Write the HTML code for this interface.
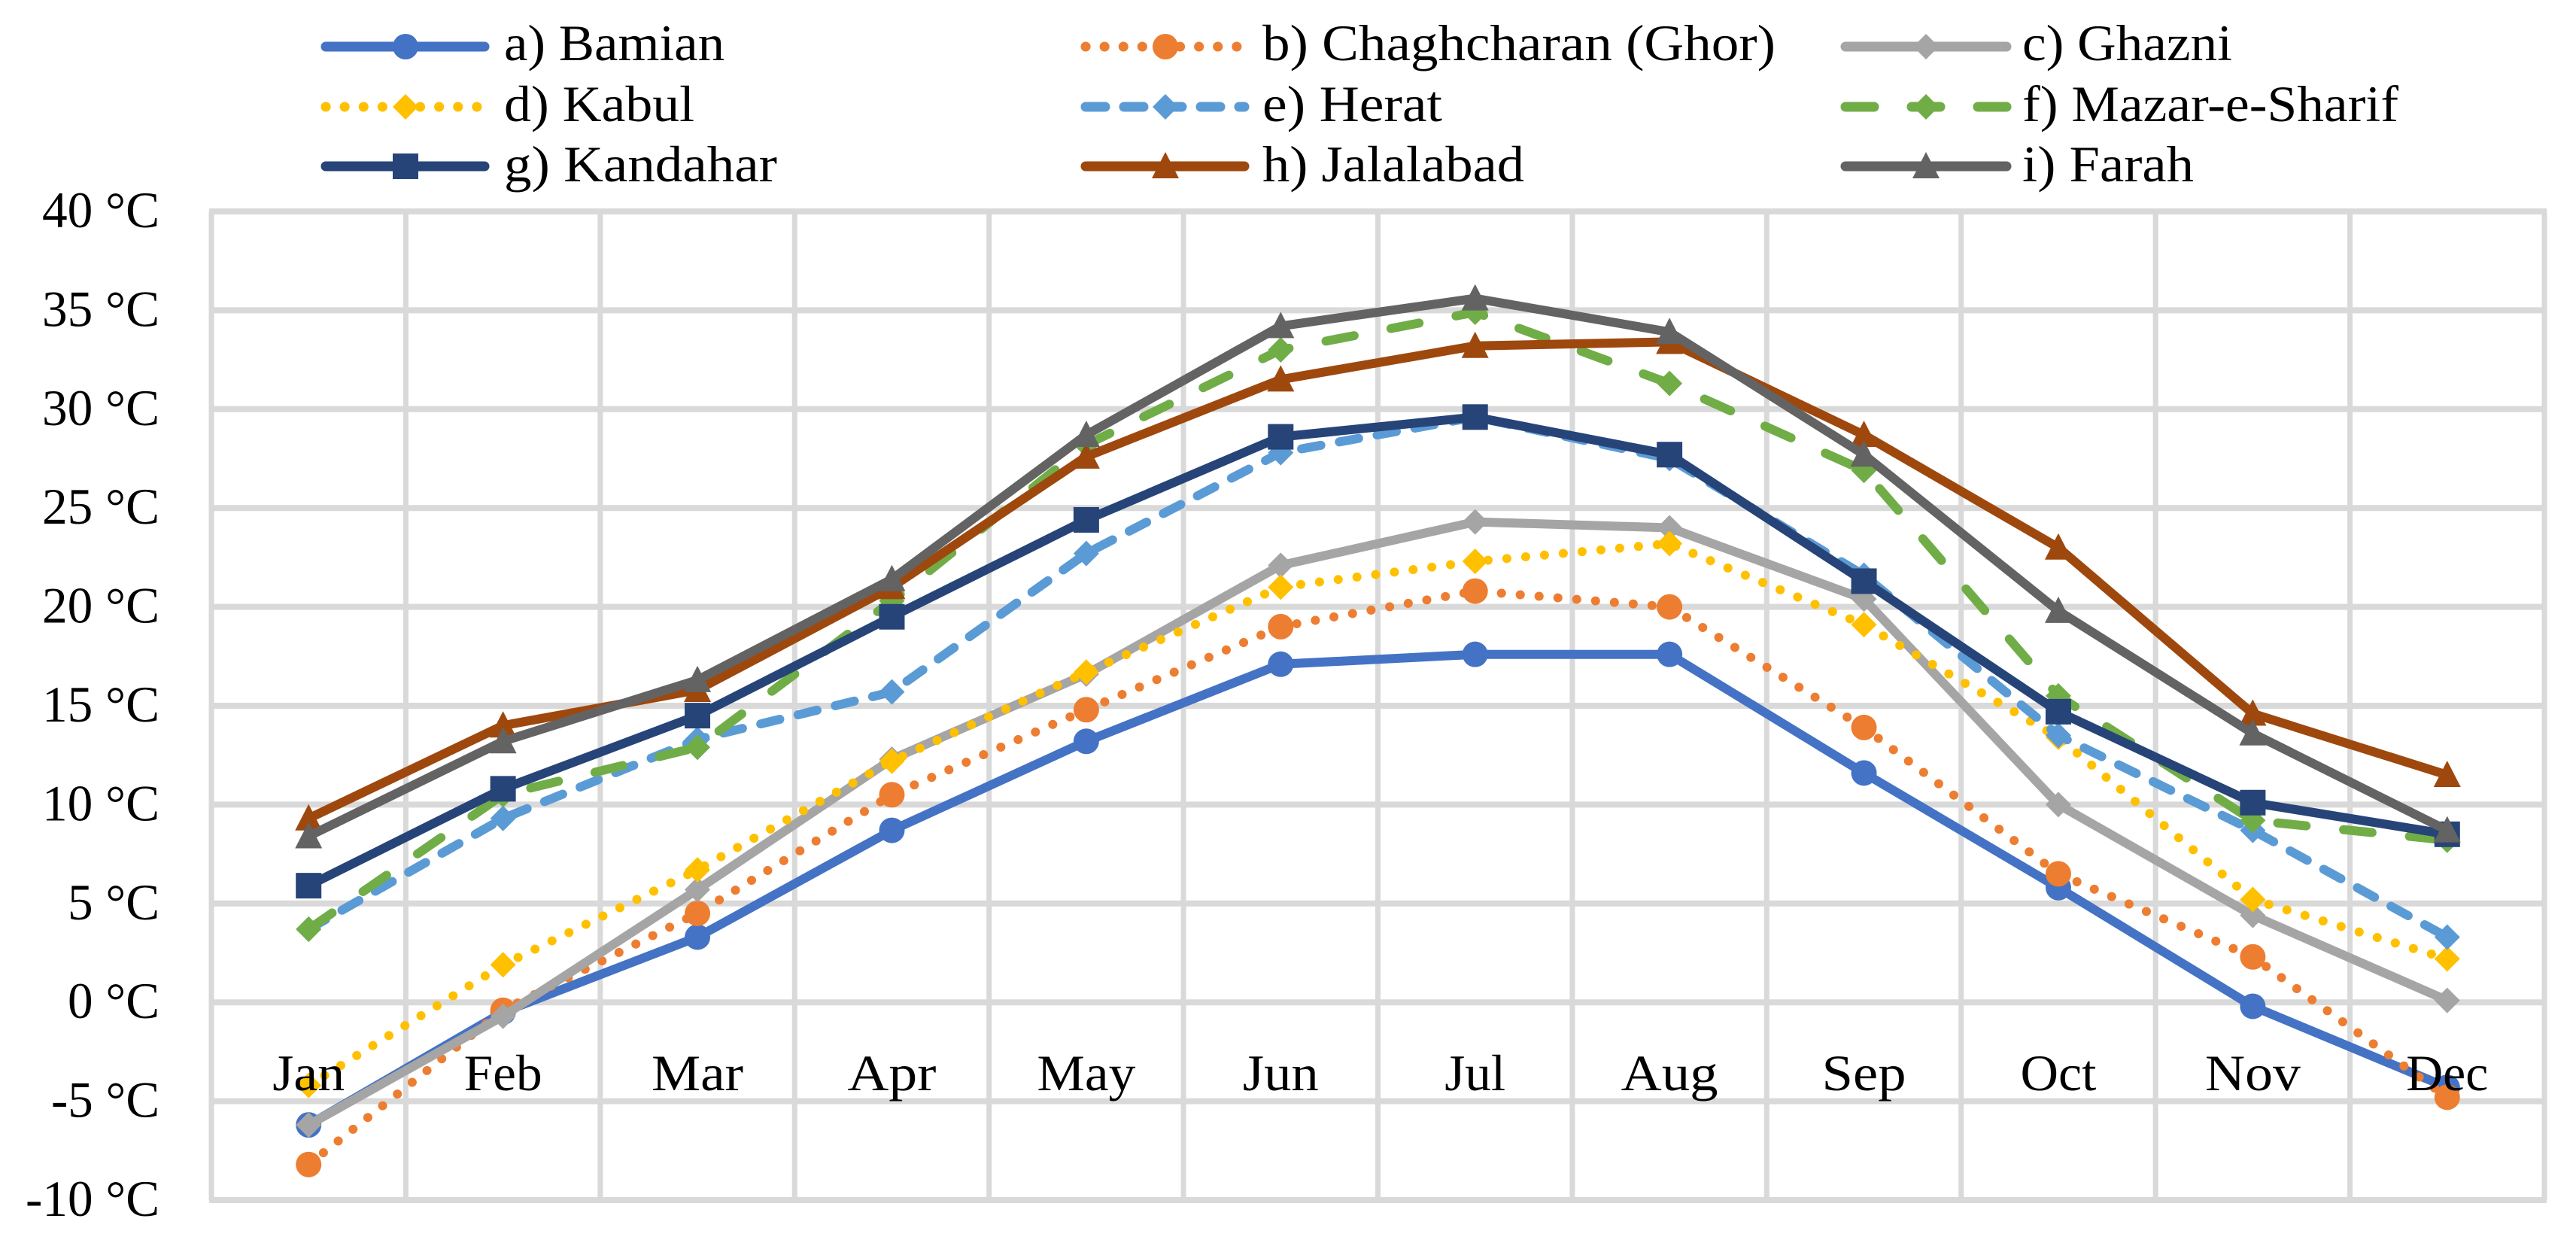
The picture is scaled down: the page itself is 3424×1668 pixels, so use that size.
<!DOCTYPE html>
<html lang="en">
<head>
<meta charset="utf-8">
<title>Monthly temperature chart</title>
<style>
html,body{margin:0;padding:0;background:#fff;}
svg{display:block;}
text{font-family:"Liberation Serif",serif;font-size:68px;fill:#000;}
</style>
</head>
<body>
<svg id="chart" xmlns="http://www.w3.org/2000/svg" width="3424" height="1668" viewBox="0 0 3424 1668">
<rect x="0" y="0" width="3424" height="1668" fill="#ffffff"/>
<g id="grid"></g>
<g id="series"></g>
<g id="xlabels"></g>
<g id="ylabels"></g>
<g id="legend"></g>
</svg>
<script>
const months = ['Jan','Feb','Mar','Apr','May','Jun','Jul','Aug','Sep','Oct','Nov','Dec'];
const yTicks = [40,35,30,25,20,15,10,5,0,-5,-10];
const bamian = [-6.2,-0.5,3.3,8.7,13.2,17.1,17.6,17.6,11.6,5.8,-0.2,-4.3];
const chaghcharan = [-8.2,-0.4,4.5,10.5,14.8,19.0,20.8,20.0,13.9,6.5,2.3,-4.8];
const ghazni = [-6.2,-0.7,5.7,12.3,16.6,22.1,24.3,24.0,20.4,10.0,4.4,0.1];
const kabul = [-4.2,1.9,6.7,12.2,16.7,21.0,22.3,23.2,19.1,13.4,5.2,2.2];
const herat = [3.7,9.3,13.3,15.7,22.7,27.8,29.6,27.5,21.6,13.5,8.7,3.3];
const mazar = [3.7,10.5,12.9,20.3,28.2,33.0,34.9,31.3,26.9,15.5,9.2,8.2];
const kandahar = [5.9,10.8,14.5,19.5,24.4,28.6,29.6,27.7,21.3,14.7,10.1,8.5];
const jalalabad = [9.3,14.0,15.8,21.0,27.6,31.5,33.2,33.4,28.7,23.0,14.6,11.5];
const farah = [8.4,13.2,16.3,21.4,28.7,34.2,35.6,33.9,27.7,19.8,13.6,8.7];

const NS = 'http://www.w3.org/2000/svg';
const plotL = 281, plotR = 3382, plotT = 281, plotB = 1595;
const yMax = 40, yMin = -10;
const lineW = 12;
const monthWidth = {Jan:96,Feb:104,Mar:122,Apr:118,May:131,Jun:101,Jul:81,Aug:129,Sep:112,Oct:101,Nov:127,Dec:109};
const tickWidth = {40:156,35:156,30:156,25:156,20:156,15:156,10:156,5:122,0:122,'-5':144,'-10':178};

function xPos(i){ return plotL + (plotR - plotL) * (i + 0.5) / months.length; }
function xEdge(i){ return plotL + (plotR - plotL) * i / months.length; }
function yPos(v){ return plotT + (plotB - plotT) * (yMax - v) / (yMax - yMin); }
function mk(tag, attrs, parent){
  const el = document.createElementNS(NS, tag);
  Object.keys(attrs).forEach(function(k){ el.setAttribute(k, attrs[k]); });
  parent.appendChild(el);
  return el;
}
function markerShape(kind, cx, cy, color, parent){
  let m;
  if (kind === 'circle') {
    m = mk('ellipse', {cx:cx, cy:cy, rx:17, ry:17, fill:color}, parent);
  } else if (kind === 'diamond') {
    m = mk('polygon', {points:[cx,cy-17, cx+17,cy, cx,cy+17, cx-17,cy].join(' '), fill:color}, parent);
  } else if (kind === 'square') {
    m = mk('rect', {x:cx-17, y:cy-17, width:34, height:34, fill:color}, parent);
  } else {
    m = mk('polygon', {points:[cx,cy-19, cx+18,cy+16, cx-18,cy+16].join(' '), fill:color}, parent);
  }
  return m;
}

/* gridlines */
const grid = document.getElementById('grid');
yTicks.forEach(function(t){
  const l = mk('line', {x1:plotL-3, x2:plotR+3, y1:yPos(t), y2:yPos(t), stroke:'#d9d9d9', 'stroke-width':8}, grid);
  
  
});
for (let i = 0; i <= months.length; i++) {
  const l = mk('line', {x1:xEdge(i), x2:xEdge(i), y1:plotT, y2:plotB, stroke:'#d9d9d9', 'stroke-width':7}, grid);
  
  
}

/* series */
const seriesDefs = [
  {key:'bamian', label:'a) Bamian', values:bamian, color:'#4472C4', dash:'', marker:'circle', col:0, row:0, tw:293},
  {key:'chaghcharan', label:'b) Chaghcharan (Ghor)', values:chaghcharan, color:'#ED7D31', dash:'0.1 25', marker:'circle', col:1, row:0, tw:682},
  {key:'ghazni', label:'c) Ghazni', values:ghazni, color:'#A5A5A5', dash:'', marker:'diamond', col:2, row:0, tw:279},
  {key:'kabul', label:'d) Kabul', values:kabul, color:'#FFC000', dash:'0.1 25', marker:'diamond', col:0, row:1, tw:253},
  {key:'herat', label:'e) Herat', values:herat, color:'#5B9BD5', dash:'26 25', marker:'diamond', col:1, row:1, tw:239},
  {key:'mazar', label:'f) Mazar-e-Sharif', values:mazar, color:'#70AD47', dash:'38 50', marker:'diamond', col:2, row:1, tw:500},
  {key:'kandahar', label:'g) Kandahar', values:kandahar, color:'#264478', dash:'', marker:'square', col:0, row:2, tw:363},
  {key:'jalalabad', label:'h) Jalalabad', values:jalalabad, color:'#9E480E', dash:'', marker:'triangle', col:1, row:2, tw:348},
  {key:'farah', label:'i) Farah', values:farah, color:'#636363', dash:'', marker:'triangle', col:2, row:2, tw:228}
];
const seriesG = document.getElementById('series');
seriesDefs.forEach(function(s){
  const g = mk('g', {}, seriesG);
  
  
  const pts = s.values.map(function(v, i){ return xPos(i).toFixed(1) + ',' + yPos(v).toFixed(1); }).join(' ');
  const attrs = {points:pts, fill:'none', stroke:s.color, 'stroke-width':lineW, 'stroke-linecap':'round', 'stroke-linejoin':'round'};
  if (s.dash) attrs['stroke-dasharray'] = s.dash;
  const line = mk('polyline', attrs, g);
  
  
  s.values.forEach(function(v, i){
    const m = markerShape(s.marker, xPos(i), yPos(v), s.color, g);
    
    
  });
});

/* month labels */
const xG = document.getElementById('xlabels');
months.forEach(function(mth, i){
  const t = mk('text', {x:xPos(i), y:1449, 'text-anchor':'middle', textLength:monthWidth[mth], lengthAdjust:'spacingAndGlyphs'}, xG);
  t.textContent = mth;
  
  
});

/* y labels */
const yG = document.getElementById('ylabels');
yTicks.forEach(function(v){
  const t = mk('text', {x:212, y:yPos(v)+21, 'text-anchor':'end', textLength:tickWidth[v], lengthAdjust:'spacingAndGlyphs'}, yG);
  t.textContent = v + ' \u00B0C';
  
  
});

/* legend */
const legendCols = [{x1:427,x2:650,mx:539,tx:670},{x1:1437,x2:1660,mx:1549,tx:1678},{x1:2447,x2:2673,mx:2560,tx:2688}];
const legendRows = [{cy:62,base:80},{cy:142,base:161},{cy:221,base:241}];
const legendG = document.getElementById('legend');
seriesDefs.forEach(function(s){
  const c = legendCols[s.col], r = legendRows[s.row];
  const g = mk('g', {}, legendG);
  
  
  const attrs = {x1:c.x1+6, x2:c.x2-6, y1:r.cy, y2:r.cy, stroke:s.color, 'stroke-width':13, 'stroke-linecap':'round'};
  if (s.dash) attrs['stroke-dasharray'] = s.dash;
  const ln = mk('line', attrs, g);
  
  
  const m = markerShape(s.marker, c.mx, r.cy, s.color, g);
  
  
  const t = mk('text', {x:c.tx, y:r.base, textLength:s.tw, lengthAdjust:'spacingAndGlyphs'}, g);
  t.textContent = s.label;
  
  
});
</script>
</body>
</html>
